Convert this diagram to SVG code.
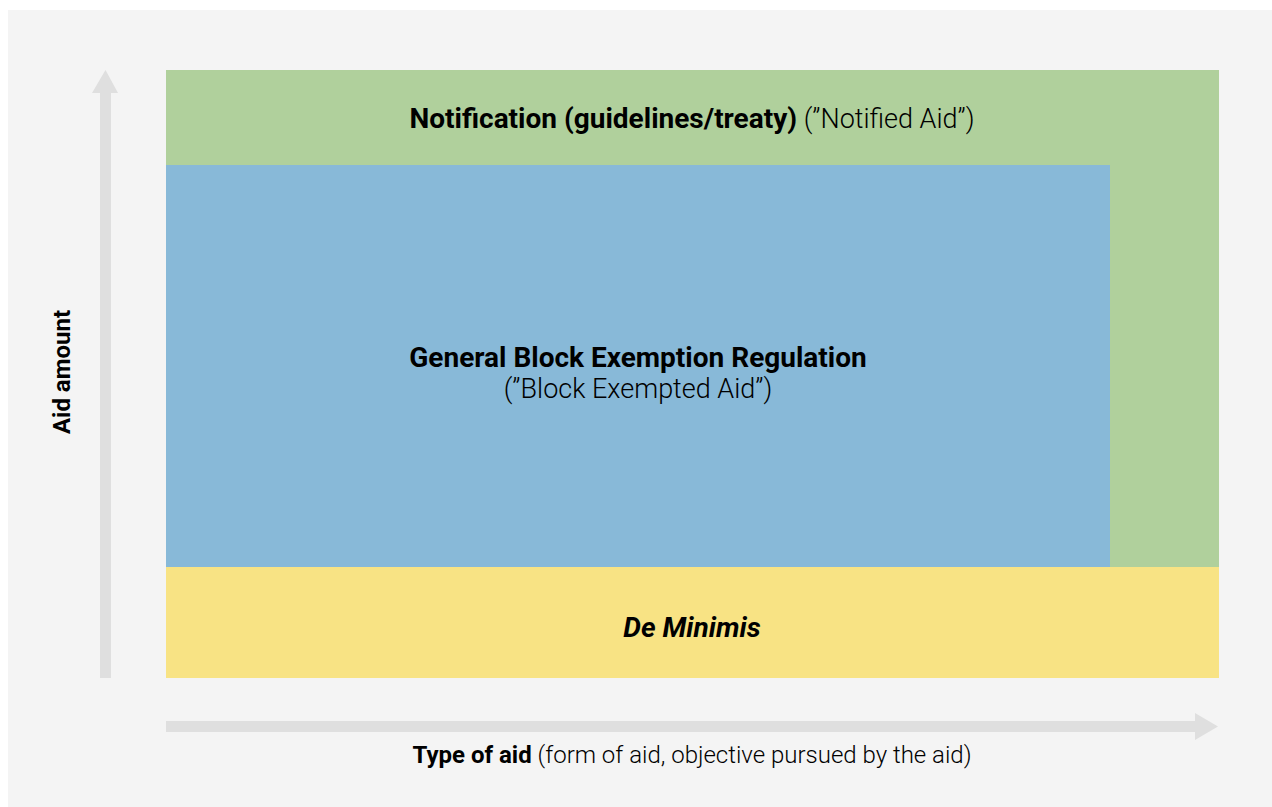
<svg xmlns="http://www.w3.org/2000/svg" width="1272" height="807" viewBox="0 0 1272 807">
<style>
.t{font-family:Roboto,Inter,"Liberation Sans",sans-serif;font-size:24px;fill:#000}
.big{font-size:28px}
.b{font-weight:700}
.l{font-weight:300}
.lb{font-weight:300;font-size:27px}
.axis{fill:#dfdfdf}
</style>
<rect x="0" y="0" width="1272" height="807" fill="#ffffff"/>
<rect x="8" y="10" width="1264" height="797" fill="#f4f4f4"/>
<g id="connectors">
<path class="axis" d="M100,678 V93 H92 L105.5,70 L118,93 H111 V678 Z"/>
<path class="axis" d="M166,721 H1195 V713 L1218,726.5 L1195,740 V732 H166 Z"/>
</g>
<g id="notification">
<rect x="166" y="70" width="1053" height="497" fill="#b0d09c"/>
<text class="t big" x="692" y="128" text-anchor="middle"><tspan class="b">Notification (guidelines/treaty)</tspan><tspan class="lb"> (”Notified Aid”)</tspan></text>
</g>
<g id="gber">
<rect x="166" y="165" width="944" height="402" fill="#88b9d8"/>
<text class="t big b" x="638" y="367" text-anchor="middle">General Block Exemption Regulation</text>
<text class="t lb" x="638" y="398" text-anchor="middle">(”Block Exempted Aid”)</text>
</g>
<g id="deminimis">
<rect x="166" y="567" width="1053" height="111" fill="#f8e384"/>
<text class="t big b" x="692" y="637" text-anchor="middle" font-style="italic">De Minimis</text>
</g>
<g id="y-label">
<text class="t b" x="0" y="0" text-anchor="middle" font-size="25" transform="translate(70,372) rotate(-90)">Aid amount</text>
</g>
<g id="x-label">
<text class="t" x="692" y="763" text-anchor="middle"><tspan class="b">Type of aid</tspan><tspan class="l"> (form of aid, objective pursued by the aid)</tspan></text>
</g>
</svg>
